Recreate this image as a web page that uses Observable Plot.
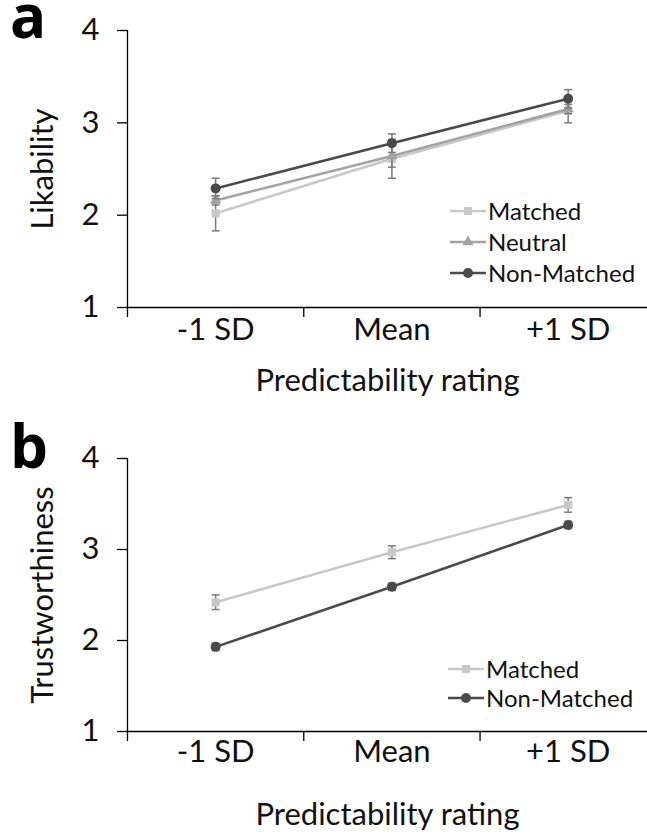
<!DOCTYPE html>
<html>
<head>
<meta charset="utf-8">
<script src="https://cdn.jsdelivr.net/npm/d3@7"></script>
<script src="https://cdn.jsdelivr.net/npm/@observablehq/plot@0.6"></script>
<style>
  body { margin: 0; background: #fff; }
  #wrap { position: relative; width: 647px; height: 840px; font-family: Lato, "Open Sans", sans-serif; color: #111; }
  .panel { position: absolute; left: 0; width: 647px; }
  .plabel { position: absolute; font-weight: bold; font-size: 60px; font-family: "Open Sans", Lato, sans-serif; line-height: 30px; color: #000; }
  .legend { position: absolute; font-size: 24px; line-height: 1; color: #111; }
  .legend .row { display: flex; align-items: center; }
  .legend svg { display: block; margin-right: 2px; }
</style>
</head>
<body>
<div id="wrap"></div>
<script>
// ---- data ----
const categories = ["-1 SD", "Mean", "+1 SD"];
const yTicks = [1, 2, 3, 4];
const xTitle = "Predictability rating";

// panel a : Likability
const seriesA = ["Matched", "Neutral", "Non-Matched"];
const likMatched = [2.02, 2.61, 3.13];
const likMatchedErr = [0.19, 0.21, 0.13];
const likNeutral = [2.16, 2.64, 3.15];
const likNeutralErr = [0.05, 0.12, 0.05];
const likNonMatched = [2.29, 2.78, 3.26];
const likNonMatchedErr = [0.11, 0.10, 0.10];

// panel b : Trustworthiness
const seriesB = ["Matched", "Non-Matched"];
const trustMatched = [2.42, 2.97, 3.49];
const trustMatchedErr = [0.08, 0.07, 0.08];
const trustNonMatched = [1.93, 2.59, 3.27];
const trustNonMatchedErr = [0.04, 0.04, 0.04];

// ---- styles ----
const style = {
  "Matched":     {color: "#c8c8c8", symbol: "square",   r: 4.6},
  "Neutral":     {color: "#a2a2a2", symbol: "triangle", r: 4.2},
  "Non-Matched": {color: "#4a4a4a", symbol: "circle",   r: 5}
};
const errColor = "#7a7a7a";
const fs = 31;
const capSymbol = {draw(ctx, size) { const w = Math.sqrt(size); ctx.moveTo(-w / 2, 0); ctx.lineTo(w / 2, 0); }};

function rowsOf(name, vals, errs) {
  return vals.map((v, i) => ({series: name, x: i, cat: categories[i], y: v, e: errs[i]}));
}

function panel({rows, seriesOrder, yLabel, marginTop, marginBottom, labelPad, titleDy}) {
  const marks = [
    Plot.ruleX([-0.5], {stroke: "#000", strokeWidth: 1.3}),
    Plot.ruleY([1], {stroke: "#000", strokeWidth: 1.3}),
    Plot.axisY({ticks: yTicks, tickSize: 10, tickPadding: 18, tickFormat: d => d, fontSize: fs, stroke: "#000", strokeWidth: 1.3, label: null}),
    Plot.axisX({ticks: [-0.5, 0.5, 1.5], tickSize: 10, tickFormat: () => "", stroke: "#000", strokeWidth: 1.3, label: null}),
    Plot.axisX({ticks: [0, 1, 2], tickSize: 0, tickPadding: labelPad, tickFormat: i => categories[i], fontSize: fs, label: null}),
    Plot.text([yLabel], {frameAnchor: "left", text: d => d, rotate: -90, dx: -84, fontSize: fs, textAnchor: "middle", lineAnchor: "middle", fill: "#111"}),
    Plot.text([xTitle], {frameAnchor: "bottom", text: d => d, dy: titleDy, fontSize: fs, textAnchor: "middle", lineAnchor: "middle", fill: "#111"})
  ];
  for (const s of seriesOrder) {
    const data = rows.filter(d => d.series === s);
    const st = style[s];
    marks.push(
      Plot.ruleX(data, {x: "x", y1: d => d.y - d.e, y2: d => d.y + d.e, stroke: errColor, strokeWidth: 1.5}),
      Plot.dot(data, {x: "x", y: d => d.y - d.e, symbol: capSymbol, r: 4.5, stroke: errColor, strokeWidth: 1.5}),
      Plot.dot(data, {x: "x", y: d => d.y + d.e, symbol: capSymbol, r: 4.5, stroke: errColor, strokeWidth: 1.5}),
      Plot.line(data, {x: "x", y: "y", stroke: st.color, strokeWidth: 2.6}),
      Plot.dot(data, {x: "x", y: "y", symbol: st.symbol, r: st.r, fill: st.color, stroke: "none"})
    );
  }
  return Plot.plot({
    width: 647, height: 420,
    marginLeft: 127, marginRight: 0, marginTop, marginBottom,
    x: {domain: [-0.5, 2.45], axis: null},
    y: {domain: [1, 4], axis: null},
    style: {fontFamily: "Lato, 'Open Sans', sans-serif", color: "#111", background: "#fff", overflow: "visible"},
    marks
  });
}

function legend(names, left, top, rowH) {
  const div = document.createElement("div");
  div.className = "legend";
  div.style.left = left + "px";
  div.style.top = top + "px";
  for (const n of names) {
    const st = style[n];
    const row = document.createElement("div");
    row.className = "row";
    row.style.height = rowH + "px";
    const sym = d3.symbol(d3[{square: "symbolSquare", triangle: "symbolTriangle", circle: "symbolCircle"}[st.symbol]], Math.PI * st.r * st.r)();
    row.innerHTML = `<svg width="36" height="20"><line x1="0" x2="36" y1="10" y2="10" stroke="${st.color}" stroke-width="2.6"/><path d="${sym}" transform="translate(18,10)" fill="${st.color}"/></svg><span>${n}</span>`;
    div.appendChild(row);
  }
  return div;
}

const wrap = document.getElementById("wrap");

const rowsA = [
  ...rowsOf("Matched", likMatched, likMatchedErr),
  ...rowsOf("Neutral", likNeutral, likNeutralErr),
  ...rowsOf("Non-Matched", likNonMatched, likNonMatchedErr)
];
const rowsB = [
  ...rowsOf("Matched", trustMatched, trustMatchedErr),
  ...rowsOf("Non-Matched", trustNonMatched, trustNonMatchedErr)
];

const pa = document.createElement("div"); pa.className = "panel"; pa.style.top = "0px";
pa.appendChild(panel({rows: rowsA, seriesOrder: ["Matched", "Neutral", "Non-Matched"], yLabel: "Likability", marginTop: 30, marginBottom: 113, labelPad: 10, titleDy: 74}));
wrap.appendChild(pa);

const pb = document.createElement("div"); pb.className = "panel"; pb.style.top = "420px";
pb.appendChild(panel({rows: rowsB, seriesOrder: ["Matched", "Non-Matched"], yLabel: "Trustworthiness", marginTop: 38, marginBottom: 109, labelPad: 8, titleDy: 84}));
wrap.appendChild(pb);

const la = document.createElement("div"); la.className = "plabel"; la.textContent = "a"; la.style.left = "10px"; la.style.top = "0px";
wrap.appendChild(la);
const lb = document.createElement("div"); lb.className = "plabel"; lb.textContent = "b"; lb.style.left = "10px"; lb.style.top = "430px";
wrap.appendChild(lb);

wrap.appendChild(legend(seriesA, 450, 195, 31));
wrap.appendChild(legend(seriesB, 448, 654, 29));
</script>
</body>
</html>
